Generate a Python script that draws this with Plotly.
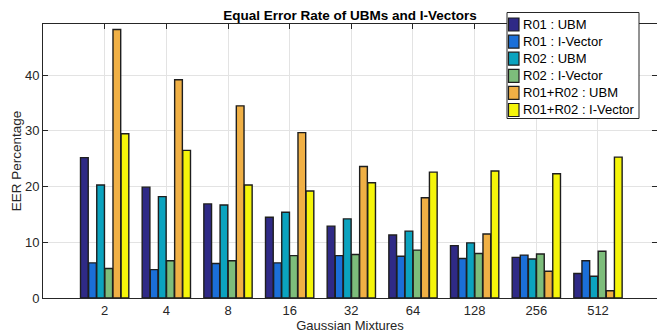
import plotly.graph_objects as go

categories = ["2", "4", "8", "16", "32", "64", "128", "256", "512"]
series_names = ["R01 : UBM", "R01 : I-Vector", "R02 : UBM", "R02 : I-Vector",
                "R01+R02 : UBM", "R01+R02 : I-Vector"]
r01_ubm = [25.2, 19.9, 16.9, 14.5, 12.9, 11.3, 9.4, 7.3, 4.4]
r01_ivec = [6.3, 5.1, 6.2, 6.3, 7.6, 7.5, 7.1, 7.7, 6.7]
r02_ubm = [20.3, 18.2, 16.7, 15.4, 14.2, 12.0, 9.9, 7.0, 3.9]
r02_ivec = [5.3, 6.7, 6.7, 7.6, 7.8, 8.6, 8.0, 7.9, 8.4]
r0102_ubm = [48.2, 39.2, 34.5, 29.7, 23.6, 18.0, 11.5, 4.8, 1.3]
r0102_ivec = [29.5, 26.5, 20.3, 19.2, 20.7, 22.6, 22.8, 22.3, 25.3]
series_values = [r01_ubm, r01_ivec, r02_ubm, r02_ivec, r0102_ubm, r0102_ivec]
colors = ["#2f2a86", "#1b6fd8", "#0ba3bf", "#7dbd7b", "#f0b045", "#f5f50a"]
y_ticks = [0, 10, 20, 30, 40]

x_pos = list(range(1, len(categories) + 1))

fig = go.Figure()
for name, vals, col in zip(series_names, series_values, colors):
    fig.add_trace(go.Bar(
        x=x_pos, y=vals, name=name, showlegend=False,
        marker=dict(color=col, line=dict(color="#1e1e1e", width=1.4)),
    ))

FONT = "Liberation Sans, Arial, sans-serif"
AX = "#262626"
GRID = "#e3e3e3"

W, H = 657, 335
ML, MR, MT, MB = 43, 0, 24, 37
pw, ph = W - ML - MR, H - MT - MB

def px2x(px):
    return (px - ML) / pw

def py2y(py):
    return (H - MB - py) / ph

# manual legend (MATLAB-style box)
shapes = [dict(type="rect", xref="paper", yref="paper",
               x0=px2x(507), x1=px2x(639), y0=py2y(118.5), y1=py2y(12.5),
               fillcolor="white", line=dict(color=AX, width=1), layer="above")]
annotations = []
for i, (name, col) in enumerate(zip(series_names, colors)):
    cy = 24.5 + i * 17.1
    shapes.append(dict(type="rect", xref="paper", yref="paper",
                       x0=px2x(508.5), x1=px2x(519), y0=py2y(cy + 6.5), y1=py2y(cy - 6.5),
                       fillcolor=col, line=dict(color="#1e1e1e", width=1.2), layer="above"))
    annotations.append(dict(text=name, xref="paper", yref="paper",
                            x=px2x(520.5), y=py2y(cy), xanchor="left", yanchor="middle",
                            showarrow=False, font=dict(family=FONT, size=13, color="black")))

fig.update_layout(
    width=W, height=H,
    margin=dict(l=ML, r=MR, t=MT, b=MB),
    paper_bgcolor="white", plot_bgcolor="white",
    barmode="group", bargap=0.21, bargroupgap=0.05,
    title=dict(text="<b>Equal Error Rate of UBMs and I-Vectors</b>",
               x=(ML + pw / 2) / W, xanchor="center", y=1 - 15 / H, yanchor="middle",
               font=dict(family=FONT, size=13.5, color="black")),
    font=dict(family=FONT, size=13, color=AX),
    xaxis=dict(range=[0, 9.957], tickmode="array", tickvals=x_pos, ticktext=categories,
               showgrid=True, gridcolor=GRID, gridwidth=1,
               showline=True, linecolor=AX, linewidth=1, mirror="ticks",
               ticks="inside", ticklen=5, tickcolor=AX, zeroline=False,
               tickfont=dict(family=FONT, size=13, color=AX),
               title=dict(text="Gaussian Mixtures", standoff=4,
                          font=dict(family=FONT, size=13, color=AX))),
    yaxis=dict(range=[0, 49.2], tickmode="array", tickvals=y_ticks,
               showgrid=True, gridcolor=GRID, gridwidth=1,
               showline=True, linecolor=AX, linewidth=1, mirror=False,
               ticks="inside", ticklen=5, tickcolor=AX, zeroline=False,
               tickfont=dict(family=FONT, size=13, color=AX),
               title=dict(text="EER Percentage", standoff=0,
                          font=dict(family=FONT, size=13.5, color=AX))),
    yaxis2=dict(range=[0, 49.2], overlaying="y", side="right", tickmode="array",
                tickvals=y_ticks, showticklabels=False, showgrid=False, showline=False,
                ticks="inside", ticklen=5, tickcolor=AX, zeroline=False),
    shapes=shapes, annotations=annotations,
)
# invisible trace to anchor the right-side ticks
fig.add_trace(go.Scatter(x=[None], y=[None], yaxis="y2", showlegend=False, hoverinfo="skip"))

fig.write_html("out.html",
               config={"displayModeBar": False},
               post_script="document.body.style.margin='0';document.body.style.padding='0';"
                           "document.body.style.overflow='hidden';")
